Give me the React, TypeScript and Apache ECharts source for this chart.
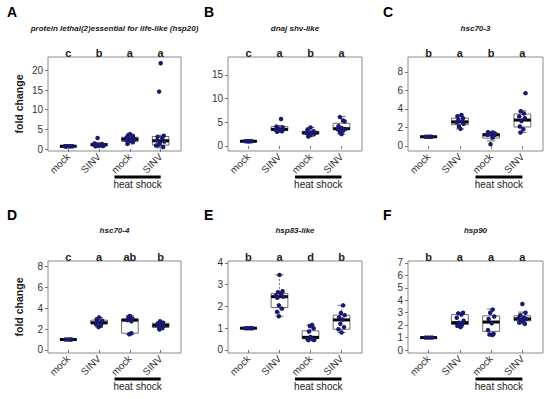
import React, { useEffect, useRef } from "react";
import * as echarts from "echarts";

// ---------- data ----------
const categories = ["mock", "SINV", "mock", "SINV"];
const catPositions = [1, 2, 3, 4];
const groupLabel = "heat shock";
const groupSpan = [2.5, 4.0];
const panelLetters = ["A", "B", "C", "D", "E", "F"];
const geneTitles = [
  "protein lethal(2)essential for life-like (hsp20)",
  "dnaj shv-like",
  "hsc70-3",
  "hsc70-4",
  "hsp83-like",
  "hsp90",
];
const yName = "fold change";

const sigA = ["c", "b", "a", "a"];
const sigB = ["c", "a", "b", "a"];
const sigC = ["b", "a", "b", "a"];
const sigD = ["c", "a", "ab", "b"];
const sigE = ["b", "a", "d", "b"];
const sigF = ["b", "a", "a", "a"];

const ticksA = [0, 5, 10, 15, 20];
const ticksB = [0, 5, 10, 15];
const ticksC = [0, 2, 4, 6, 8];
const ticksD = [0, 2, 4, 6, 8];
const ticksE = [0, 1, 2, 3, 4];
const ticksF = [0, 1, 2, 3, 4, 5, 6, 7];

const rangeA = [-0.5, 23.4];
const rangeB = [-1.06, 18.8];
const rangeC = [-0.54, 9.6];
const rangeD = [-0.29, 8.5];
const rangeE = [-0.14, 4.09];
const rangeF = [-0.24, 7.16];

// [whiskerLow, q1, median, q3, whiskerHigh]
const boxA = [
  [0.55, 0.62, 0.7, 0.76, 0.82],
  [0.6, 0.85, 1.1, 1.4, 1.7],
  [1.3, 1.9, 2.5, 3.0, 3.8],
  [0.3, 1.0, 2.1, 3.2, 3.5],
];
const boxB = [
  [0.95, 0.98, 1.0, 1.02, 1.05],
  [3.0, 3.3, 3.5, 4.1, 4.3],
  [2.0, 2.5, 2.8, 3.1, 3.9],
  [2.5, 3.5, 3.65, 4.8, 6.2],
];
const boxC = [
  [0.97, 0.99, 1.0, 1.01, 1.03],
  [1.85, 2.3, 2.6, 3.0, 3.35],
  [0.55, 0.85, 1.2, 1.35, 1.55],
  [1.45, 2.05, 2.8, 3.45, 3.8],
];
const boxD = [
  [0.97, 0.99, 1.0, 1.01, 1.03],
  [2.2, 2.5, 2.6, 2.85, 3.1],
  [1.5, 1.6, 2.85, 2.95, 3.3],
  [1.95, 2.15, 2.35, 2.55, 2.7],
];
const boxE = [
  [0.98, 0.99, 1.0, 1.01, 1.02],
  [1.55, 1.95, 2.45, 2.6, 3.45],
  [0.45, 0.52, 0.58, 0.88, 1.15],
  [0.8, 0.95, 1.38, 1.6, 2.05],
];
const boxF = [
  [0.98, 0.99, 1.0, 1.01, 1.02],
  [1.85, 2.05, 2.2, 2.85, 3.0],
  [1.2, 1.5, 2.25, 2.75, 3.3],
  [2.1, 2.35, 2.5, 2.75, 3.05],
];

// individual replicates [x position (with jitter), fold change]
const pointsA = [
  [0.88, 0.7], [0.95, 0.72], [1.02, 0.68], [1.08, 0.7], [1.14, 0.71], [0.92, 0.66],
  [1.95, 2.8], [1.85, 1.4], [2.1, 1.2], [1.9, 1.1], [2.05, 1.0], [2.15, 0.9], [1.98, 0.8], [1.88, 0.7], [2.12, 0.75],
  [3.0, 3.8], [2.95, 3.5], [3.1, 3.3], [2.9, 3.0], [3.05, 2.7], [3.15, 2.5], [2.88, 2.3], [3.0, 2.1], [3.1, 1.8], [2.92, 1.3],
  [4.0, 21.8], [3.95, 14.6], [4.1, 3.4], [3.9, 3.1], [4.05, 2.8], [3.88, 2.2], [4.12, 1.9], [3.97, 1.4], [3.85, 0.9], [4.08, 0.5], [3.92, 1.0],
];
const pointsB = [
  [0.9, 1.0], [0.97, 1.0], [1.04, 1.0], [1.1, 1.0], [1.0, 0.98],
  [2.05, 5.7], [1.9, 4.1], [2.1, 3.9], [1.95, 3.7], [2.12, 3.5], [1.88, 3.4], [2.0, 3.3], [2.08, 3.1], [1.92, 3.0],
  [3.0, 3.9], [2.9, 3.4], [3.1, 3.1], [2.95, 2.9], [3.05, 2.8], [2.88, 2.7], [3.12, 2.6], [3.0, 2.3], [2.93, 2.0],
  [3.95, 6.1], [4.05, 5.4], [4.1, 5.2], [3.9, 4.2], [4.0, 3.8], [4.12, 3.6], [3.88, 3.5], [4.05, 3.2], [3.95, 2.9], [4.0, 2.5],
];
const pointsC = [
  [0.9, 1.0], [0.98, 1.0], [1.05, 1.0], [1.1, 1.0],
  [2.05, 3.35], [1.92, 3.2], [2.1, 3.0], [1.95, 2.8], [2.08, 2.65], [1.9, 2.55], [2.12, 2.4], [1.97, 2.1], [2.02, 1.85],
  [2.9, 1.5], [3.05, 1.45], [3.12, 1.35], [2.95, 1.3], [3.0, 1.25], [2.88, 1.2], [3.1, 1.15], [3.05, 0.9], [2.98, 0.2],
  [4.1, 5.7], [3.95, 3.75], [4.05, 3.5], [3.9, 3.2], [4.08, 3.0], [3.97, 2.7], [3.92, 2.1], [4.03, 1.8], [3.94, 1.45],
];
const pointsD = [
  [0.9, 1.0], [0.98, 1.0], [1.06, 1.0], [1.1, 1.0],
  [2.0, 3.1], [1.92, 2.9], [2.1, 2.8], [1.95, 2.7], [2.08, 2.55], [1.9, 2.45], [2.05, 2.3], [1.98, 2.2],
  [3.0, 3.25], [2.95, 3.1], [3.08, 3.0], [2.92, 2.85], [3.05, 2.75], [3.05, 1.6], [2.98, 1.5],
  [3.98, 2.75], [4.08, 2.6], [3.9, 2.5], [4.02, 2.4], [4.1, 2.3], [3.94, 2.2], [4.05, 2.1], [3.96, 1.95],
];
const pointsE = [
  [0.9, 1.0], [0.98, 1.0], [1.06, 1.0], [1.12, 1.0],
  [2.0, 3.45], [2.1, 2.7], [1.95, 2.65], [2.05, 2.6], [1.88, 2.5], [2.12, 2.45], [1.93, 2.4], [1.98, 2.05], [2.08, 1.9], [1.92, 1.75], [1.98, 1.55],
  [3.05, 1.15], [2.98, 1.1], [3.1, 1.0], [2.95, 0.85], [3.0, 0.6], [2.9, 0.5], [3.08, 0.48], [2.93, 0.45], [3.12, 0.46],
  [4.05, 2.05], [3.98, 1.7], [4.1, 1.6], [3.92, 1.5], [4.03, 1.4], [3.96, 1.2], [4.08, 1.05], [3.9, 0.95], [4.0, 0.8],
];
const pointsF = [
  [0.9, 1.0], [0.98, 1.0], [1.06, 1.0], [1.12, 1.0],
  [2.1, 3.0], [1.95, 2.95], [2.05, 2.85], [1.9, 2.6], [2.12, 2.35], [1.97, 2.2], [2.07, 2.05], [1.92, 1.95], [2.02, 1.85],
  [3.05, 3.25], [2.97, 3.0], [3.1, 2.7], [2.92, 2.5], [3.02, 2.15], [2.9, 1.6], [3.08, 1.3], [2.95, 1.25], [3.04, 1.2],
  [4.0, 3.7], [4.1, 3.0], [3.93, 2.8], [4.05, 2.6], [3.88, 2.55], [4.12, 2.5], [3.96, 2.4], [4.02, 2.3], [3.9, 2.2], [4.08, 2.1],
];

// ---------- layout / style ----------
const FONT = '"Liberation Sans", Arial, sans-serif';
const colLeft = [48, 228, 408];
const colWidth = [133, 134, 135];
const rowTop = [57, 261];
const rowHeight = [94, 92];
const panelLetterPos = [[7, 5], [204, 5], [383, 5], [7, 208], [204, 208], [383, 208]];
const titleY = [28, 230];
const X_MIN = 0.34;
const X_MAX = 4.66;
const POINT_COLOR = "#191970";

const panels = [
  { sig: sigA, ticks: ticksA, range: rangeA, box: boxA, pts: pointsA },
  { sig: sigB, ticks: ticksB, range: rangeB, box: boxB, pts: pointsB },
  { sig: sigC, ticks: ticksC, range: rangeC, box: boxC, pts: pointsC },
  { sig: sigD, ticks: ticksD, range: rangeD, box: boxD, pts: pointsD },
  { sig: sigE, ticks: ticksE, range: rangeE, box: boxE, pts: pointsE },
  { sig: sigF, ticks: ticksF, range: rangeF, box: boxF, pts: pointsF },
];

function buildOption() {
  const grid: any[] = [];
  const xAxis: any[] = [];
  const yAxis: any[] = [];
  const series: any[] = [];
  const graphic: any[] = [];

  panels.forEach((p, i) => {
    const col = i % 3;
    const row = Math.floor(i / 3);
    const left = colLeft[col];
    const top = rowTop[row];
    const w = colWidth[col];
    const h = rowHeight[row];
    grid.push({
      left, top, width: w, height: h,
      show: true, borderColor: "#8c8c8c", borderWidth: 1, backgroundColor: "transparent",
    });
    // bottom category-position axis
    xAxis.push({
      type: "value", gridIndex: i, min: X_MIN, max: X_MAX, position: "bottom",
      axisLine: { show: false },
      splitLine: { show: false },
      axisTick: { show: true, customValues: catPositions, length: 3, lineStyle: { color: "#777" } },
      axisLabel: {
        customValues: catPositions,
        formatter: (v: number) => categories[Math.round(v) - 1] || "",
        rotate: 45, fontSize: 10, color: "#333", margin: 4, fontFamily: FONT,
      },
    });
    // top significance letters
    xAxis.push({
      type: "value", gridIndex: i, min: X_MIN, max: X_MAX, position: "top",
      axisLine: { show: false },
      splitLine: { show: false },
      axisTick: { show: false },
      axisLabel: {
        customValues: catPositions,
        formatter: (v: number) => p.sig[Math.round(v) - 1] || "",
        fontSize: 11, fontWeight: "bold", color: "#222", margin: -1, fontFamily: FONT,
      },
    });
    yAxis.push({
      type: "value", gridIndex: i, min: p.range[0], max: p.range[1],
      axisLine: { show: false },
      splitLine: { show: false },
      axisTick: { show: true, customValues: p.ticks, length: 3, lineStyle: { color: "#777" } },
      axisLabel: { customValues: p.ticks, fontSize: 10, color: "#333", margin: 5, fontFamily: FONT },
      name: col === 0 ? yName : "",
      nameLocation: "middle",
      nameGap: 24,
      nameTextStyle: { fontSize: 10.5, fontWeight: "bold", color: "#222", fontFamily: FONT },
    });

    const yMin = p.range[0];
    // box plots
    series.push({
      type: "custom",
      xAxisIndex: 2 * i,
      yAxisIndex: i,
      clip: false,
      z: 2,
      data: p.box.map((b, k) => [catPositions[k], ...b]),
      renderItem: (params: any, api: any) => {
        const x = api.value(0);
        const lo = api.value(1), q1 = api.value(2), md = api.value(3), q3 = api.value(4), hi = api.value(5);
        const hw = 0.27, cw = 0.13;
        const tl = api.coord([x - hw, q3]);
        const br = api.coord([x + hw, q1]);
        const c = api.coord([x, md]);
        const pLo = api.coord([x, lo]);
        const pHi = api.coord([x, hi]);
        const capL = api.coord([x - cw, lo])[0];
        const capR = api.coord([x + cw, lo])[0];
        const grey = "#6e6e6e";
        return {
          type: "group",
          children: [
            { type: "line", shape: { x1: pHi[0], y1: pHi[1], x2: pHi[0], y2: tl[1] }, style: { stroke: grey, lineWidth: 1, lineDash: [2, 2] } },
            { type: "line", shape: { x1: pLo[0], y1: br[1], x2: pLo[0], y2: pLo[1] }, style: { stroke: grey, lineWidth: 1, lineDash: [2, 2] } },
            { type: "line", shape: { x1: capL, y1: pHi[1], x2: capR, y2: pHi[1] }, style: { stroke: grey, lineWidth: 1 } },
            { type: "line", shape: { x1: capL, y1: pLo[1], x2: capR, y2: pLo[1] }, style: { stroke: grey, lineWidth: 1 } },
            { type: "rect", shape: { x: tl[0], y: tl[1], width: br[0] - tl[0], height: Math.max(br[1] - tl[1], 0.5) }, style: { fill: "#fff", stroke: grey, lineWidth: 1 } },
            { type: "line", shape: { x1: tl[0], y1: c[1], x2: br[0], y2: c[1] }, style: { stroke: "#000", lineWidth: 3 } },
          ],
        };
      },
    });
    // replicate points
    series.push({
      type: "scatter",
      xAxisIndex: 2 * i,
      yAxisIndex: i,
      z: 3,
      symbol: "circle",
      symbolSize: 4.5,
      itemStyle: { color: POINT_COLOR, opacity: 1 },
      data: p.pts,
    });
    // heat shock bar + label
    series.push({
      type: "custom",
      xAxisIndex: 2 * i,
      yAxisIndex: i,
      clip: false,
      z: 4,
      data: [groupSpan],
      renderItem: (params: any, api: any) => {
        const a = api.coord([api.value(0), yMin]);
        const b = api.coord([api.value(1), yMin]);
        const y = a[1] + 26;
        return {
          type: "group",
          children: [
            { type: "line", shape: { x1: a[0], y1: y, x2: b[0], y2: y }, style: { stroke: "#000", lineWidth: 3 } },
            {
              type: "text",
              x: (a[0] + b[0]) / 2,
              y: y + 2,
              style: {
                text: groupLabel, fill: "#222", font: `10px ${FONT}`,
                align: "center", verticalAlign: "top", textAlign: "center", textVerticalAlign: "top",
              },
            },
          ],
        };
      },
    });

    // titles and panel letters
    graphic.push({
      type: "text",
      x: left + w / 2,
      y: titleY[row],
      style: {
        text: geneTitles[i], fill: "#222", font: `italic bold 8px ${FONT}`,
        align: "center", verticalAlign: "middle", textAlign: "center", textVerticalAlign: "middle",
      },
    });
    graphic.push({
      type: "text",
      x: panelLetterPos[i][0],
      y: panelLetterPos[i][1],
      style: {
        text: panelLetters[i], fill: "#000", font: `bold 14px ${FONT}`,
        align: "left", verticalAlign: "top", textAlign: "left", textVerticalAlign: "top",
      },
    });
  });

  return {
    animation: false,
    backgroundColor: "#fff",
    grid,
    xAxis,
    yAxis,
    series,
    graphic,
  };
}

export default function App() {
  const ref = useRef<HTMLDivElement>(null);
  useEffect(() => {
    if (!ref.current) return;
    const chart = echarts.init(ref.current, undefined, { renderer: "svg" });
    chart.setOption(buildOption() as any);
    return () => chart.dispose();
  }, []);
  return (
    <div
      ref={ref}
      style={{ position: "absolute", left: 0, top: 0, width: 550, height: 399, background: "#fff" }}
    />
  );
}
